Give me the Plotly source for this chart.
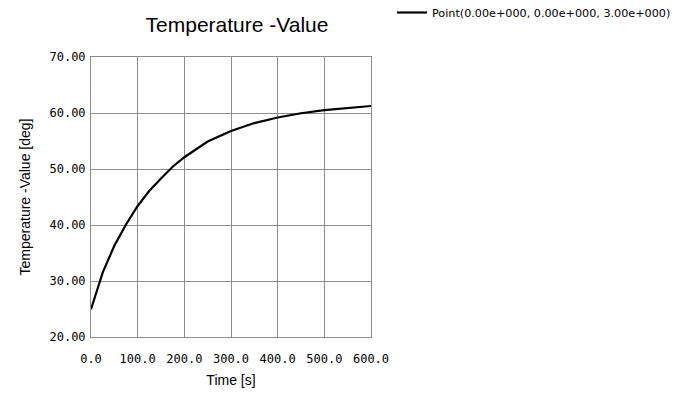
import plotly.graph_objects as go

time_s = [0, 25, 50, 75, 100, 125, 150, 175, 200, 250, 300, 350, 400, 450, 500, 550, 600]
temperature = [24.95, 31.5, 36.3, 40.1, 43.4, 46.1, 48.3, 50.4, 52.1, 54.9, 56.8, 58.2, 59.2, 59.95, 60.5, 60.9, 61.25]

x_ticks = [0, 100, 200, 300, 400, 500, 600]
x_tick_labels = ["0.0", "100.0", "200.0", "300.0", "400.0", "500.0", "600.0"]
y_ticks = [20, 30, 40, 50, 60, 70]
y_tick_labels = ["20.00", "30.00", "40.00", "50.00", "60.00", "70.00"]

series_name = "Point(0.00e+000, 0.00e+000, 3.00e+000)"

# The page body has an 8px margin, so the figure is 8px smaller than the window.
W, H = 672, 388
PLOT_H = 280

fig = go.Figure()
fig.add_trace(go.Scatter(
    x=time_s, y=temperature, mode="lines", name=series_name,
    line=dict(color="black", width=2.2),
    showlegend=True,
))

grid = "#8c8c8c"
mono = "DejaVu Sans Mono"
fig.update_layout(
    width=W, height=H,
    margin=dict(l=83, r=309, t=49, b=59, autoexpand=False),
    paper_bgcolor="white", plot_bgcolor="white",
    title=dict(text="Temperature -Value", x=229 / W, xanchor="center",
               xref="container", y=1 - 17 / H, yanchor="middle", automargin=False,
               font=dict(family="Liberation Sans", size=21, color="black")),
    showlegend=True,
    legend=dict(xref="container", yref="paper", x=384 / W, xanchor="left",
                y=1 + (49 + 10) / PLOT_H, yanchor="top", bgcolor="rgba(0,0,0,0)",
                font=dict(family="DejaVu Sans", size=11.2, color="black"),
                itemwidth=30),
    font=dict(family="Liberation Sans", color="black"),
)
fig.update_xaxes(
    range=[0, 600], tickvals=x_ticks, ticktext=x_tick_labels,
    showgrid=True, gridcolor=grid, gridwidth=1,
    showline=True, linecolor=grid, linewidth=1, mirror=True,
    ticks="", ticklabelstandoff=11, zeroline=False, automargin=False,
    tickfont=dict(family=mono, size=12, color="black"),
    title=dict(text="Time [s]", font=dict(family="Liberation Sans", size=14, color="black"), standoff=9),
)
fig.update_yaxes(
    range=[20, 70], tickvals=y_ticks, ticktext=y_tick_labels,
    showgrid=True, gridcolor=grid, gridwidth=1,
    showline=True, linecolor=grid, linewidth=1, mirror=True,
    ticks="", ticklabelstandoff=2, zeroline=False, automargin=False,
    tickfont=dict(family=mono, size=12, color="black"),
    title=dict(text="Temperature -Value [deg]", font=dict(family="Liberation Sans", size=14, color="black"), standoff=15),
)

fig.write_html("out.html")
